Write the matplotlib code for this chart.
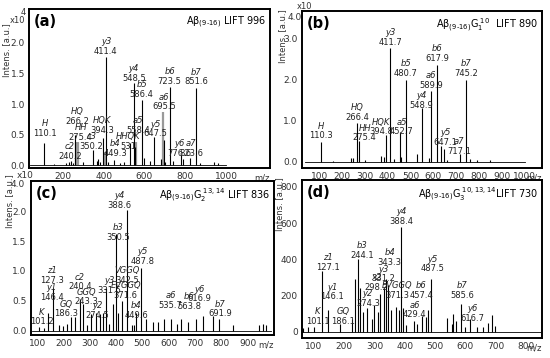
import matplotlib.pyplot as plt
from matplotlib.transforms import offset_copy

# ---------------- (a) Abeta(9-16) LIFT 996, x10^4
a_mz = [110.1, 155, 215, 232, 240.2, 250, 262, 300, 350.2, 365, 372, 380, 394.3, 411.4,
        420, 449.3, 480, 500, 531, 548.5, 555, 586.4, 600, 625, 647.5, 680, 695.5, 700,
        723.5, 740, 776.6, 790, 823.6, 851.6, 870, 940, 960]
a_int = [0.37, 0.03, 0.04, 0.05, 0.07, 0.04, 0.5, 0.05, 0.25, 0.08, 0.1, 0.06, 0.45, 1.77,
         0.05, 0.09, 0.04, 0.05, 0.36, 1.35, 0.3, 1.06, 0.12, 0.08, 0.47, 0.1, 0.42, 0.06,
         1.28, 0.08, 0.17, 0.1, 0.12, 1.26, 0.04, 0.05, 0.04]
a_gray_mz = [266.2, 275.4, 405, 558.4, 692]
a_gray_int = [0.38, 0.38, 0.22, 0.38, 0.87]
a_names = ["H", "c2", "HQ", "HH", "c3", "HQK", "y3", "b4", "HHQK", "y4", "a5", "b5",
           "y5", "a6", "b6", "y6", "a7", "b7"]
a_vals = ["110.1", "240.2", "266.2", "275.4", "350.2", "394.3", "411.4", "449.3", "531",
          "548.5", "558.4", "586.4", "647.5", "695.5", "723.5", "776.6", "823.6", "851.6"]

# ---------------- (b) Abeta(9-16)G1 LIFT 890, x10^4
b_mz = [110.3, 160, 240, 248, 266.4, 275.4, 300, 370, 385, 394.8, 411.7, 430, 452.7, 460,
        480.7, 530, 548.9, 580, 589.9, 617.9, 635, 647.1, 660, 717.1, 745.2, 760, 790, 850]
b_int = [0.48, 0.03, 0.08, 0.1, 0.95, 0.5, 0.04, 0.15, 0.12, 0.65, 2.77, 0.06, 0.72, 0.12,
         2.0, 0.2, 1.31, 0.08, 1.72, 2.37, 0.38, 0.3, 0.05, 0.18, 2.0, 0.06, 0.05, 0.05]
b_names = ["H", "HQ", "HH", "HQK", "y3", "a5", "b5", "y4", "a6", "b6", "y5", "a7", "b7"]
b_vals = ["110.3", "266.4", "275.4", "394.8", "411.7", "452.7", "480.7", "548.9", "589.9",
          "617.9", "647.1", "717.1", "745.2"]

# ---------------- (c) Abeta(9-16)G2 LIFT 836, x10^4 (positions as read on the printed axis)
c_mz = [108, 125, 140, 161, 185, 200, 215, 228, 243, 262, 274, 290, 303, 325, 340, 350,
        360, 375, 388, 401, 407, 424, 443, 460, 468, 477, 496, 515, 540, 559, 584, 609,
        630, 647, 673, 704, 730, 768, 793, 844, 945, 957, 970]
c_int = [0.07, 0.05, 0.3, 0.72, 0.1, 0.08, 0.12, 0.23, 0.23, 0.53, 0.45, 0.1, 0.28, 0.3,
         0.28, 0.3, 0.71, 0.12, 0.45, 1.62, 0.3, 0.5, 2.02, 0.1, 0.1, 0.3, 1.05, 0.2, 0.15,
         0.15, 0.2, 0.2, 0.12, 0.2, 0.15, 0.2, 0.25, 0.25, 0.2, 0.1, 0.1, 0.12, 0.1]
c_names = ["K", "z1", "y1", "GQ", "c2", "GGQ", "y2", "y3", "b3", "y4", "VGGQ", "EVGGQ",
           "b4", "y5", "a6", "b6", "y6", "b7"]
c_vals = ["101.2", "127.3", "146.4", "186.3", "240.4", "243.3", "274.5", "331.5", "350.5",
          "388.6", "342.5", "371.6", "449.6", "487.8", "535.7", "563.8", "616.9", "691.9"]

# ---------------- (d) Abeta(9-16)G3 LIFT 730
d_mz = [65, 80, 101.1, 127.1, 146.1, 186.1, 225, 237, 244.1, 252, 262, 274.3, 290, 298.2,
        310, 318, 331.2, 338, 343.3, 355, 371.3, 380, 388.4, 395, 405, 429.4, 440, 457.4,
        470, 478, 487.5, 540, 555, 560, 570, 585.6, 600, 616.7, 640, 660, 675, 690, 700]
d_int = [20, 25, 30, 338, 123, 45, 70, 290, 400, 240, 110, 135, 70, 150,
         110, 210, 240, 290, 260, 120, 140, 120, 580, 130, 40, 60, 45, 90,
         80, 120, 290, 75, 45, 100, 60, 156, 30, 70, 25, 30, 50, 95, 35]
d_names = ["K", "z1", "y1", "GQ", "b3", "y2", "x2", "y3", "b4", "EVGGQ", "y4", "b6",
           "a6", "y5", "b7", "y6"]
d_vals = ["101.1", "127.1", "146.1", "186.1", "244.1", "274.3", "298.2", "331.2", "343.3",
          "371.3", "388.4", "457.4", "429.4", "487.5", "585.6", "616.7"]

# label placement (x centre, bottom of the label) in data units
a_lab_x = [110, 235, 270, 287, 340, 392, 411, 458, 522, 548, 568, 586, 652, 697, 723, 773, 828, 852]
a_lab_y = [0.45, 0.07, 0.64, 0.38, 0.24, 0.5, 1.79, 0.12, 0.24, 1.34, 0.5, 1.08, 0.44, 0.88, 1.3, 0.12, 0.12, 1.29]
b_lab_x = [110, 266, 300, 372, 411, 462, 480, 548, 589, 618, 652, 712, 745]
b_lab_y = [0.52, 0.98, 0.47, 0.62, 2.8, 0.62, 2.04, 1.27, 1.76, 2.42, 0.36, 0.15, 2.04]
c_lab_x = [117, 157, 155, 212, 262, 288, 330, 376, 408, 412, 443, 437, 478, 501, 607, 678, 718, 795]
c_lab_y = [0.075, 0.77, 0.49, 0.21, 0.66, 0.41, 0.185, 0.6, 1.49, 2.02, 0.77, 0.52, 0.185, 1.08, 0.35, 0.33, 0.46, 0.21]
d_lab_x = [113, 145, 160, 195, 258, 278, 305, 330, 350, 375, 390, 455, 432, 492, 590, 622]
d_lab_y = [33, 332, 169, 33, 396, 132, 223, 268, 359, 178, 586, 178, 69, 323, 178, 51]

fig = plt.figure(figsize=(5.5, 3.58), dpi=100)

panels = [
    dict(pos=[0.053, 0.531, 0.438, 0.444], mz=a_mz, it=a_int, gmz=a_gray_mz, git=a_gray_int,
         names=a_names, vals=a_vals, lx=a_lab_x, ly=a_lab_y, xlim=(35, 1215), ylim=(-0.04, 2.55),
         xt=[200, 400, 600, 800, 1000], yt=[0, 0.5, 1.0, 1.5, 2.0], ytl=["0.0", "0.5", "1.0", "1.5", "2.0"],
         letter="(a)", title=r"A$\mathregular{\beta_{(9\text{-}16)}}$ LIFT 996", ylc=(-0.075, 0.74), base=(40, 1000)),
    dict(pos=[0.549, 0.531, 0.436, 0.4385], mz=b_mz, it=b_int, gmz=[], git=[],
         names=b_names, vals=b_vals, lx=b_lab_x, ly=b_lab_y, xlim=(25, 1075), ylim=(-0.15, 3.68),
         xt=[100, 200, 300, 400, 500, 600, 700, 800, 900, 1000], yt=[0, 1, 2, 3], ytl=["0.0", "1.0", "2.0", "3.0"],
         letter="(b)", title=r"A$\mathregular{\beta_{(9\text{-}16)}G_1^{\ 10}}$  LIFT 890", ylc=(-0.06, 0.84), base=(40, 1000)),
    dict(pos=[0.056, 0.064, 0.442, 0.430], mz=c_mz, it=c_int, gmz=[], git=[],
         names=c_names, vals=c_vals, lx=c_lab_x, ly=c_lab_y, xlim=(76, 1000), ylim=(-0.07, 2.5),
         xt=[100, 200, 300, 400, 500, 600, 700, 800, 900], yt=[0, 0.5, 1.0, 1.5, 2.0], ytl=["0.0", "0.5", "1.0", "1.5", "2.0"],
         letter="(c)", title=r"A$\mathregular{\beta_{(9\text{-}16)}G_2^{\ 13,14}}$ LIFT 836", ylc=(-0.07, 0.87), base=(80, 990)),
    dict(pos=[0.549, 0.056, 0.436, 0.441], mz=d_mz, it=d_int, gmz=[], git=[],
         names=d_names, vals=d_vals, lx=d_lab_x, ly=d_lab_y, xlim=(60, 853), ylim=(-33, 838),
         xt=[100, 200, 300, 400, 500, 600, 700, 800], yt=[0, 200, 400, 600, 800], ytl=["0", "200", "400", "600", "800"],
         letter="(d)", title=r"A$\mathregular{\beta_{(9\text{-}16)}G_3^{\ 10,13,14}}$LIFT 730", ylc=(-0.075, 0.85), base=(60, 850)),
]

for p in panels:
    ax = fig.add_axes(p["pos"])
    ax.plot(p["base"], [0, 0], color="black", lw=0.6)
    if p["gmz"]:
        ax.vlines(p["gmz"], 0, p["git"], color="#9a9a9a", lw=1.6)
    ax.vlines(p["mz"], 0, p["it"], color="black", lw=0.8)
    up = offset_copy(ax.transData, fig=fig, y=7, units="points")
    for n, v, x, y in zip(p["names"], p["vals"], p["lx"], p["ly"]):
        ax.text(x, y, v, ha="center", va="bottom", fontsize=6, color="#222222")
        ax.text(x, y, n, ha="center", va="bottom", fontsize=6, style="italic", color="#222222",
                transform=up)
    ax.set_xlim(p["xlim"])
    ax.set_ylim(p["ylim"])
    ax.set_xticks(p["xt"])
    ax.set_xticklabels([str(t) for t in p["xt"]])
    ax.set_yticks(p["yt"])
    ax.set_yticklabels(p["ytl"])
    ax.tick_params(length=0, labelsize=6.5, labelcolor="#333333", pad=3)
    for s in ax.spines.values():
        s.set_linewidth(1.4)
    ax.set_ylabel("Intens. [a.u.]", fontsize=6, color="#333333")
    ax.yaxis.set_label_coords(*p["ylc"])
    ax.text(0.02, 0.97, p["letter"], transform=ax.transAxes, fontsize=10.5, fontweight="bold",
            ha="left", va="top")
    ax.text(0.985, 0.965, p["title"], transform=ax.transAxes, fontsize=7, ha="right", va="top")
    ax.text(1.0, -0.035, "m/z", transform=ax.transAxes, fontsize=6, ha="right", va="top", color="#333333")

# exponent marks of the x10^4 axes
fig.text(0.042, 0.965, "4", fontsize=6, ha="center", va="center", color="#333333")
fig.text(0.032, 0.944, "x10", fontsize=6, ha="center", va="center", color="#333333")
fig.text(0.553, 0.981, "x10", fontsize=6, ha="center", va="center", color="#333333")
fig.text(0.535, 0.95, "4.0", fontsize=6.5, ha="center", va="center", color="#333333")
fig.text(0.045, 0.511, "x10", fontsize=6.5, ha="center", va="center", color="#333333")
fig.text(0.033, 0.486, "4.0", fontsize=6.5, ha="center", va="center", color="#333333")

fig.savefig("out.png", dpi=100)
